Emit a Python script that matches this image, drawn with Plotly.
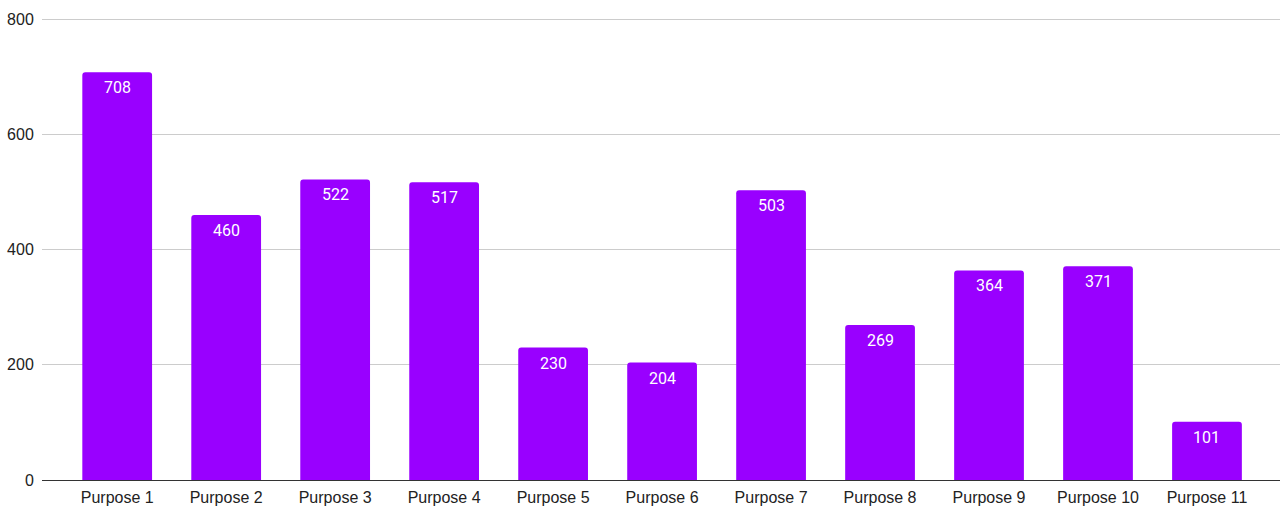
import plotly.graph_objects as go

categories = ["Purpose 1", "Purpose 2", "Purpose 3", "Purpose 4", "Purpose 5", "Purpose 6",
              "Purpose 7", "Purpose 8", "Purpose 9", "Purpose 10", "Purpose 11"]
values = [708, 460, 522, 517, 230, 204, 503, 269, 364, 371, 101]
y_ticks = [0, 200, 400, 600, 800]

fig = go.Figure(go.Bar(
    x=categories, y=values,
    marker=dict(color="#9900FF", line=dict(width=0)),
    hoverinfo="x+y",
))

for c, v in zip(categories, values):
    fig.add_annotation(
        x=c, y=v, text=str(v), showarrow=False,
        yanchor="top", yshift=-4,
        font=dict(family="Roboto", size=16, color="white"),
    )

fig.update_layout(
    width=1282, height=507,
    margin=dict(l=42, r=2, t=17, b=27),
    paper_bgcolor="white", plot_bgcolor="white",
    bargap=0.36, barcornerradius=3,
    showlegend=False,
    font=dict(family="Liberation Sans, Arial", size=16, color="#222222"),
)
fig.update_xaxes(
    range=[-0.69, 10.67], showgrid=False, showline=False, automargin=False,
    tickfont=dict(size=16, color="#222222"),
    ticks="outside", ticklen=3, tickcolor="rgba(0,0,0,0)",
)
fig.update_yaxes(
    range=[0, 804], tickvals=y_ticks, showgrid=True, gridcolor="#cccccc", gridwidth=1,
    zeroline=True, zerolinecolor="#333333", zerolinewidth=1, automargin=False,
    ticks="outside", ticklen=4, tickcolor="rgba(0,0,0,0)",
    tickfont=dict(size=16, color="#222222"),
)

fig.write_html("out.html", config={"displayModeBar": False},
               post_script="document.body.style.margin='0';")
